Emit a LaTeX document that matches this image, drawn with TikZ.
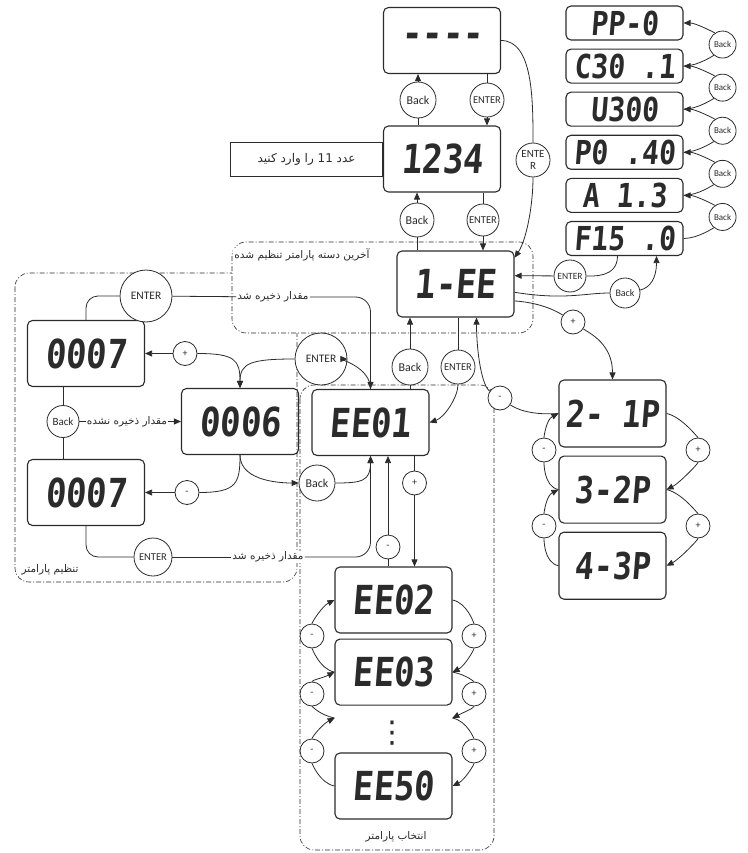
\documentclass[tikz,border=0pt]{standalone}
\usepackage{fontspec}
\usetikzlibrary{arrows.meta, positioning, calc}
\TeXXeTstate=1
\newfontfamily\fa[Script=Arabic]{DejaVu Sans}
\newfontfamily\symfont{DejaVu Sans}
\newfontfamily\lcdfont[FakeStretch=0.85,FakeSlant=0.08]{DejaVu Sans Mono}
\newfontfamily\btnfont{Carlito}
\definecolor{cline}{HTML}{2B2B2B}
\tikzset{
  every picture/.style={line width=0.8pt, color=cline},
  lcd/.style={draw, rounded corners=5pt, line width=1.1pt, minimum width=117pt, minimum height=66pt, inner sep=0pt, font=\lcdfont\bfseries\fontsize{40}{40}\selectfont},
  lcdsmall/.style={lcd, minimum height=34pt, font=\lcdfont\bfseries\fontsize{33}{33}\selectfont},
  lcdp/.style={lcd, minimum width=107pt, minimum height=67pt, font=\lcdfont\bfseries\fontsize{37}{37}\selectfont},
  hintbox/.style={draw, minimum width=152pt, minimum height=34pt, inner sep=0pt, font=\fa\fontsize{12}{12}\selectfont},
  btn/.style={circle, draw, fill=white, inner sep=0pt, minimum size=#1, font=\btnfont\fontsize{12}{12}\selectfont},
  btn/.default=34pt,
  entbtn/.style={btn=#1, font=\btnfont\fontsize{10.5}{10.5}\selectfont},
  entbtn/.default=34pt,
  pm/.style={btn=24pt, font=\btnfont\fontsize{10}{10}\selectfont},
  falabel/.style={fill=white, inner sep=1pt, font=\fa\fontsize{10.5}{10.5}\selectfont},
  group/.style={draw, dash pattern=on 5pt off 2pt on 1pt off 2pt, line width=0.6pt, rounded corners=14pt},
  arrow/.style={-{Triangle[length=7pt,width=6pt]}},
}
\begin{document}
\begin{tikzpicture}[x=1pt, y=-1pt]
  \useasboundingbox (0,0) rectangle (747,853);
  % groups
  \draw[group] (15,273) rectangle (297,582);
  \draw[group] (300,385) rectangle (494,850);
  \draw[group, fill=white] (232,242) rectangle (533,333);
  \node[falabel] (lastset) at (302,255) {\beginR آخرین دسته پارامتر تنظیم شده\endR};
  \node[falabel] (setpar) at (50,570) {\beginR تنظیم پارامتر\endR};
  \node[falabel] (selpar) at (396,837) {\beginR انتخاب پارامتر\endR};
  % top column
  \node[lcd] (dash) at (442,40.5) {----};
  \node[lcd] (code) at (442,159) {1234};
  \node[hintbox, left=0pt of code] (hint) {\beginR عدد \beginL 11\endL{} را وارد کنید\endR};
  \node[lcd] (g1) at (455.5,284) {1-EE};
  \node[btn=36pt] (backT) at (418,100) {Back};
  \node[entbtn] (enterT) at (487,100) {ENTER};
  \node[btn] (backT2) at (417,220) {Back};
  \node[entbtn=32pt] (enterT2) at (483,220) {ENTER};
  \node[btn=34pt, align=center, font=\btnfont\fontsize{11}{12}\selectfont] (enterR) at (533,160) {ENTE\\R};
  \draw[arrow] (backT) -- (backT |- dash.south);
  \draw (backT) -- (backT |- code.north);
  \draw (enterT |- dash.south) -- (enterT);
  \draw[arrow] (enterT) -- (enterT |- code.north);
  \draw[arrow] (backT2) -- (backT2 |- code.south);
  \draw (backT2) -- (backT2 |- g1.north);
  \draw (enterT2 |- code.south) -- (enterT2);
  \draw[arrow] (enterT2) -- (enterT2 |- g1.north);
  \draw (dash.east) .. controls +(32,0) and +(0,-60) .. (enterR);
  \draw[arrow] (enterR) .. controls +(0,45) and +(12,-18) .. (g1.24);
  % right column
  \node[lcdsmall] (pp) at (624.5,23) {PP-0};
  \node[lcdsmall, below=8pt of pp] (c30) {C30 .1};
  \node[lcdsmall, below=8pt of c30] (u300) {U300};
  \node[lcdsmall, below=8pt of u300] (p040) {P0 .40};
  \node[lcdsmall, below=8pt of p040] (a13) {A 1.3};
  \node[lcdsmall, below=8pt of a13] (f15) {F15 .0};
  \foreach \up/\lo [count=\i] in {pp/c30, c30/u300, u300/p040, p040/a13, a13/f15} {
    \node[btn=27pt, font=\btnfont\fontsize{9}{9}\selectfont] (rb\i) at ($(\up.east)!0.5!(\lo.east)+(39,0)$) {Back};
    \draw (\lo.east) .. controls +(15,0) and +(-8,10) .. (rb\i);
    \draw[arrow] (rb\i) .. controls +(-8,-12) and +(12,0) .. (\up.east);
  }
  \node[entbtn=32pt, font=\btnfont\fontsize{9.5}{9.5}\selectfont] (entR) at (570,276) {ENTER};
  \node[btn=30pt, font=\btnfont\fontsize{10}{10}\selectfont] (backR2) at (625,293) {Back};
  \draw ([xshift=-7pt]f15.south) .. controls +(0,22) and +(22,0) .. (entR);
  \draw[arrow] (entR) -- (g1.8);
  \draw (g1.-8) .. controls +(50,8) and +(-40,0) .. (backR2);
  \draw[arrow] (backR2) .. controls +(25,-5) and +(0,22) .. ([xshift=32pt]f15.south);
  % parameter groups
  \node[lcdp] (p21) at (612.5,413.5) {2- 1P};
  \node[lcdp, below=8pt of p21] (p32) {3-2P};
  \node[lcdp, below=8pt of p32] (p43) {4-3P};
  \node[pm] (plusR) at (573,322) {+};
  \node[pm] (minusR) at (500,398) {-};
  \draw (g1.-16) .. controls +(30,2) and +(-12,-8) .. (plusR);
  \draw[arrow] (plusR) .. controls +(18,12) and +(0,-35) .. (p21.north);
  \draw (p21.west) .. controls +(-30,2) and +(15,10) .. (minusR);
  \draw[arrow] (minusR) .. controls +(-18,-12) and +(0,35) .. ([xshift=21pt]g1.south);
  \foreach \up/\lo/\y [count=\i] in {p21/p32/450, p32/p43/526} {
    \node[pm] (pm\i) at (544,\y) {-};
    \node[pm] (pp\i) at (698,\y) {+};
    \draw (\lo.west) .. controls +(-15,-3) and +(0,12) .. (pm\i);
    \draw[arrow] (pm\i) .. controls +(0,-14) and +(-12,6) .. (\up.west);
    \draw (\up.east) .. controls +(15,3) and +(0,-12) .. (pp\i);
    \draw[arrow] (pp\i) .. controls +(0,14) and +(12,-6) .. (\lo.east);
  }
  % parameter list
  \node[lcd] (ee1) at (370.5,422.5) {EE01};
  \node[lcd] (ee2) at (393.5,600) {EE02};
  \node[lcd, below=5pt of ee2] (ee3) {EE03};
  \node[inner sep=0pt, minimum width=117pt] (gap) at (393.5,718) {};
  \node[font=\symfont\fontsize{30}{30}\selectfont, inner sep=0pt] (dots) at (392,733) {⋮};
  \node[lcd] (ee50) at (393.5,786) {EE50};
  \node[btn=36pt] (backM2) at (410,367) {Back};
  \node[entbtn] (enterM2) at (458,367) {ENTER};
  \draw[arrow] (backM2) -- (backM2 |- g1.south);
  \draw (backM2) -- (backM2 |- ee1.north);
  \draw (enterM2 |- g1.south) -- (enterM2);
  \draw[arrow] (enterM2) .. controls +(0,30) and +(15,-5) .. (ee1.east);
  \node[pm] (plusM) at (414.5,483) {+};
  \node[pm] (minusM) at (388,547) {-};
  \draw (plusM |- ee1.south) -- (plusM);
  \draw[arrow] (plusM) -- (plusM |- ee2.north);
  \draw (minusM |- ee2.north) -- (minusM);
  \draw[arrow] (minusM) -- (minusM |- ee1.south);
  \foreach \up/\lo/\y [count=\i] in {ee2/ee3/636, ee3/gap/694, gap/ee50/751} {
    \node[pm] (em\i) at (312,\y) {-};
    \node[pm] (ep\i) at (474,\y) {+};
    \draw (\lo.west) .. controls +(-15,-3) and +(0,12) .. (em\i);
    \draw[arrow] (em\i) .. controls +(0,-14) and +(-12,6) .. (\up.west);
    \draw (\up.east) .. controls +(15,3) and +(0,-12) .. (ep\i);
    \draw[arrow] (ep\i) .. controls +(0,14) and +(12,-6) .. (\lo.east);
  }
  % value setting
  \node[lcd] (v7a) at (86,353.5) {0007};
  \node[lcd] (v6) at (240,421.5) {0006};
  \node[lcd] (v7b) at (86,492.5) {0007};
  \node[pm] (plusL) at (185,353.5) {+};
  \node[pm] (minusL) at (187,492.5) {-};
  \node[btn=32pt, font=\btnfont\fontsize{11}{11}\selectfont] (backL) at (63,421.5) {Back};
  \node[falabel] (unsaved) at (127,421.5) {\beginR مقدار ذخیره نشده\endR};
  \node[entbtn=52pt, font=\btnfont\fontsize{11.5}{11.5}\selectfont] (entTL) at (146,296) {ENTER};
  \node[entbtn=38pt] (entBL) at (153,557) {ENTER};
  \node[entbtn=52pt, font=\btnfont\fontsize{11.5}{11.5}\selectfont] (entM) at (321,359) {ENTER};
  \node[btn=36pt] (backM) at (317,483) {Back};
  \node[falabel] (saved1) at (273,297) {\beginR مقدار ذخیره شد\endR};
  \node[falabel] (saved2) at (268,557) {\beginR مقدار ذخیره شد\endR};
  \draw[rounded corners=12pt] (v7a.north) |- (entTL);
  \draw (entTL) -- (saved1);
  \draw[arrow, rounded corners=15pt] (saved1) -| (ee1.north);
  \draw[rounded corners=12pt] (v7b.south) |- (entBL);
  \draw (entBL) -- (saved2);
  \draw[arrow, rounded corners=15pt] (saved2) -| (ee1.south);
  \draw (backL) -- (backL |- v7a.south);
  \draw (backL) -- (backL |- v7b.north);
  \draw (backL) -- (unsaved);
  \draw[arrow] (unsaved) -- (v6.west);
  \draw[arrow] (plusL) -- (v7a.east);
  \draw[arrow] (plusL) .. controls +(50,0) and +(0,-28) .. (v6.north);
  \draw[arrow] (entM) .. controls +(-70,0) and +(0,-25) .. (v6.north);
  \draw[arrow] (ee1.north) .. controls +(0,-22) and +(18,0) .. (entM);
  \draw[arrow] (minusL) -- (v7b.east);
  \draw (minusL) .. controls +(50,0) and +(0,28) .. (v6.south);
  \draw[arrow] (v6.south) .. controls +(0,28) and +(-30,0) .. (backM);
  \draw[arrow] (backM) .. controls +(45,0) and +(0,25) .. (ee1.south);
\end{tikzpicture}
\end{document}
